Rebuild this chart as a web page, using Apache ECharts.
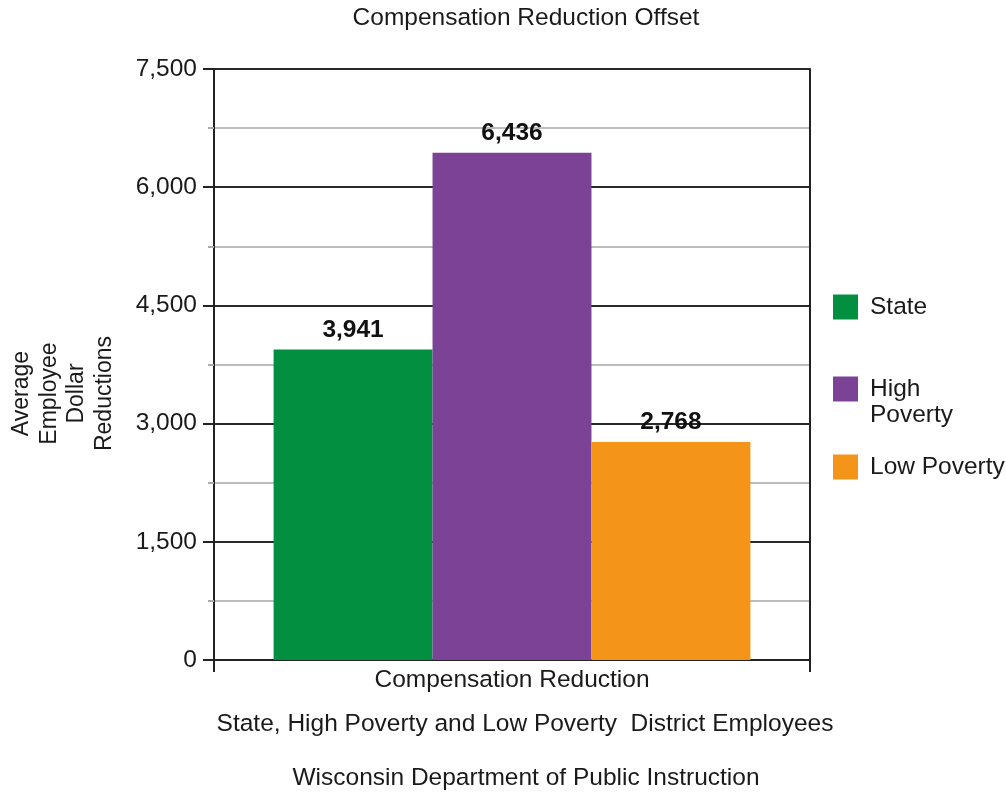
<!DOCTYPE html>
<html>
<head>
<meta charset="utf-8">
<script src="https://cdn.jsdelivr.net/npm/echarts@6/dist/echarts.min.js"></script>
<style>
  html, body { margin: 0; padding: 0; background: #fff; }
  #chart { width: 1006px; height: 795px; }
</style>
</head>
<body>
<div id="chart"></div>
<script>
// Average employee compensation reductions by district group
const categories = ['Compensation Reduction'];
const seriesNames = ['State', 'High Poverty', 'Low Poverty'];
const stateValues = [3941];
const highPovertyValues = [6436];
const lowPovertyValues = [2768];
const yTicks = [0, 1500, 3000, 4500, 6000, 7500];

const FONT = '"Liberation Sans", Arial, Helvetica, sans-serif';
const FS = 24.5;
const colors = ['#038f40', '#7c4296', '#f4951a'];
const seriesValues = [stateValues, highPovertyValues, lowPovertyValues];

const fmt = v => Number(v).toLocaleString('en-US');

const chart = echarts.init(document.getElementById('chart'), null, { renderer: 'canvas' });

const legendText = { fontFamily: FONT, fontSize: FS, color: '#1a1a1a', lineHeight: 26, padding: [0, 0, 0, 7] };
function legendFor(name, top) {
  return {
    data: [name],
    orient: 'vertical',
    left: 833,
    top: top,
    padding: 0,
    icon: 'rect',
    itemWidth: 25,
    itemHeight: 25,
    itemGap: 0,
    selectedMode: false,
    textStyle: legendText,
    // the two-line entry keeps its first line level with the swatch
    formatter: n => (n === 'High Poverty' ? ' \nHigh\nPoverty' : n)
  };
}

const titleText = { fontFamily: FONT, fontSize: FS, fontWeight: 'normal', color: '#1a1a1a' };

const option = {
  backgroundColor: '#fff',
  animation: false,
  title: [
    { text: 'Compensation Reduction Offset', left: 526, top: 6, textAlign: 'center', padding: 0, textStyle: titleText },
    { text: 'State, High Poverty and Low Poverty  District Employees', left: 525, top: 712, textAlign: 'center', padding: 0, textStyle: titleText },
    { text: 'Wisconsin Department of Public Instruction', left: 526, top: 766, textAlign: 'center', padding: 0, textStyle: titleText }
  ],
  legend: [
    legendFor('State', 294),
    legendFor('High Poverty', 350),
    legendFor('Low Poverty', 454)
  ],
  grid: { left: 213, right: 196, top: 69, bottom: 135, containLabel: false },
  xAxis: {
    type: 'category',
    data: categories,
    boundaryGap: true,
    axisLine: { show: true, lineStyle: { color: '#222', width: 2 } },
    axisTick: { show: true, length: 12, inside: false, lineStyle: { color: '#222', width: 2 } },
    axisLabel: { margin: 8, fontFamily: FONT, fontSize: FS, color: '#1a1a1a' },
    splitLine: { show: false }
  },
  yAxis: [
    {
      type: 'value',
      min: yTicks[0],
      max: yTicks[yTicks.length - 1],
      interval: yTicks[1] - yTicks[0],
      name: 'Average\nEmployee\nDollar\nReductions',
      nameLocation: 'middle',
      nameRotate: 90,
      nameGap: 96,
      nameTextStyle: { fontFamily: FONT, fontSize: 23, color: '#1a1a1a', lineHeight: 27.5, padding: [0, 58, 0, 0] },
      axisLine: { show: true, lineStyle: { color: '#222', width: 2 } },
      axisTick: { show: true, length: 11, inside: false, lineStyle: { color: '#222', width: 2 } },
      minorTick: { show: true, splitNumber: 2, length: 6, lineStyle: { color: '#aaa', width: 2 } },
      axisLabel: { margin: 17, fontFamily: FONT, fontSize: FS, color: '#1a1a1a', formatter: v => fmt(v) },
      splitLine: { show: true, lineStyle: { color: '#2a2a2a', width: 2 } },
      minorSplitLine: { show: true, lineStyle: { color: '#bdbdbd', width: 2 } }
    },
    {
      type: 'value',
      position: 'right',
      min: yTicks[0],
      max: yTicks[yTicks.length - 1],
      interval: yTicks[1] - yTicks[0],
      axisLine: { show: true, lineStyle: { color: '#222', width: 2 } },
      axisTick: { show: false },
      axisLabel: { show: false },
      splitLine: { show: false }
    }
  ],
  series: seriesNames.map((name, i) => ({
    name: name,
    type: 'bar',
    data: seriesValues[i],
    barGap: '0%',
    barCategoryGap: '20%',
    itemStyle: { color: colors[i] },
    label: {
      show: true,
      position: 'top',
      distance: 7,
      fontFamily: FONT,
      fontSize: FS,
      fontWeight: 'bold',
      color: '#111',
      formatter: p => fmt(p.value)
    }
  }))
};

chart.setOption(option);
</script>
</body>
</html>
